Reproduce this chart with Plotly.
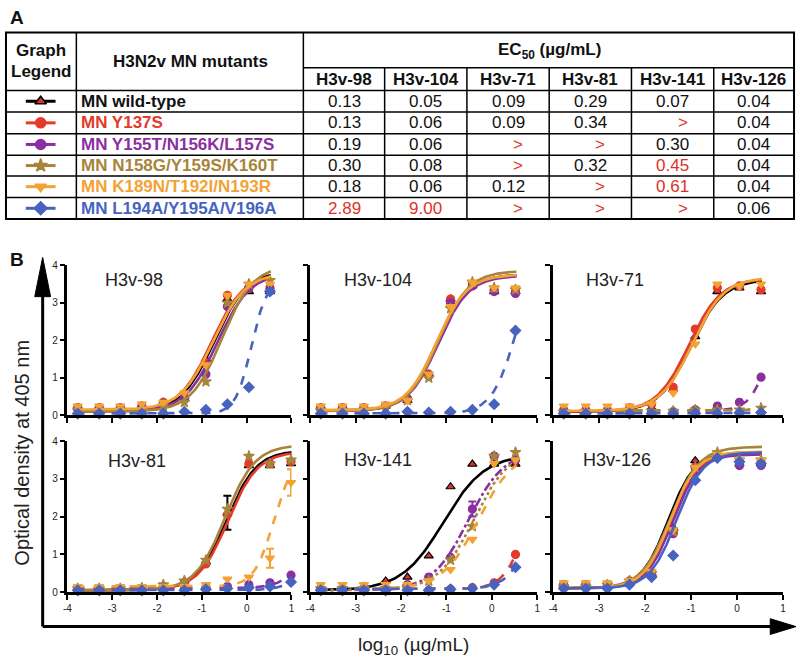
import numpy as np
import plotly.graph_objects as go

W, H = 800, 665
FONT = "Liberation Sans, Arial, Helvetica, sans-serif"

# ---------------- table data ----------------
antibodies = ["H3v-98", "H3v-104", "H3v-71", "H3v-81", "H3v-141", "H3v-126"]
mutants = ["MN wild-type", "MN Y137S", "MN Y155T/N156K/L157S",
           "MN N158G/Y159S/K160T", "MN K189N/T192I/N193R", "MN L194A/Y195A/V196A"]
ec50_wt = ["0.13", "0.05", "0.09", "0.29", "0.07", "0.04"]
ec50_y137s = ["0.13", "0.06", "0.09", "0.34", ">", "0.04"]
ec50_y155t = ["0.19", "0.06", ">", ">", "0.30", "0.04"]
ec50_n158g = ["0.30", "0.08", ">", "0.32", "0.45", "0.04"]
ec50_k189n = ["0.18", "0.06", "0.12", ">", "0.61", "0.04"]
ec50_l194a = ["2.89", "9.00", ">", ">", ">", "0.06"]
# cells printed in red besides the ">" entries: (row, column)
ec50_red_cells = [(3, 4), (4, 4), (5, 0), (5, 1)]

# ---------------- binding curve data ----------------
log_conc = [-3.77, -3.29, -2.82, -2.34, -1.86, -1.39, -0.91, -0.43, 0.05, 0.52]
log_conc_h3v81 = [-3.77, -3.29, -2.82, -2.34, -1.86, -1.39, -0.91, -0.43, 0.05, 0.52, 0.99]

# order of series in every panel: WT, Y137S, Y155T, N158G, K189N, L194A
od_h3v98 = [
    [0.20, 0.20, 0.20, 0.25, 0.35, 0.50, 1.50, 3.10, 3.30, 3.30],
    [0.20, 0.20, 0.20, 0.25, 0.35, 0.50, 1.40, 3.20, 3.40, 3.40],
    [0.20, 0.20, 0.20, 0.22, 0.30, 0.45, 1.10, 2.90, 3.40, 3.35],
    [0.15, 0.15, 0.15, 0.15, 0.25, 0.35, 0.90, 3.00, 3.50, 3.60],
    [0.25, 0.25, 0.25, 0.30, 0.35, 0.60, 1.35, 3.20, 3.50, 3.50],
    [0.05, 0.05, 0.05, 0.05, 0.05, 0.10, 0.15, 0.30, 0.75, 3.30],
]
od_h3v104 = [
    [0.20, 0.20, 0.20, 0.25, 0.40, 1.10, 3.10, 3.45, 3.30, 3.30],
    [0.20, 0.20, 0.20, 0.25, 0.42, 1.10, 3.10, 3.50, 3.35, 3.30],
    [0.20, 0.20, 0.20, 0.25, 0.45, 1.05, 3.00, 3.45, 3.30, 3.25],
    [0.15, 0.15, 0.15, 0.20, 0.40, 1.00, 2.85, 3.55, 3.40, 3.35],
    [0.25, 0.25, 0.25, 0.30, 0.40, 1.10, 2.90, 3.55, 3.40, 3.40],
    [0.05, 0.05, 0.05, 0.05, 0.10, 0.08, 0.10, 0.15, 0.30, 2.26],
]
od_h3v71 = [
    [0.15, 0.15, 0.15, 0.20, 0.20, 0.70, 2.10, 3.30, 3.40, 3.30],
    [0.15, 0.15, 0.15, 0.20, 0.30, 0.75, 2.30, 3.40, 3.45, 3.35],
    [0.10, 0.10, 0.10, 0.10, 0.10, 0.10, 0.15, 0.25, 0.35, 1.02],
    [0.10, 0.10, 0.10, 0.10, 0.12, 0.12, 0.15, 0.15, 0.15, 0.20],
    [0.25, 0.25, 0.25, 0.25, 0.30, 0.60, 1.90, 3.50, 3.45, 3.50],
    [0.05, 0.05, 0.05, 0.05, 0.05, 0.05, 0.06, 0.06, 0.07, 0.08],
]
od_h3v81 = [
    [0.10, 0.10, 0.10, 0.10, 0.18, 0.30, 0.80, 2.10, 3.35, 3.35, 3.40],
    [0.10, 0.10, 0.10, 0.10, 0.15, 0.25, 0.75, 2.05, 3.40, 3.40, 3.45],
    [0.05, 0.05, 0.05, 0.05, 0.10, 0.10, 0.12, 0.15, 0.20, 0.25, 0.45],
    [0.10, 0.10, 0.10, 0.12, 0.20, 0.30, 0.85, 2.20, 3.60, 3.40, 3.50],
    [0.15, 0.15, 0.15, 0.15, 0.15, 0.15, 0.20, 0.35, 0.40, 0.90, 2.90],
    [0.05, 0.05, 0.05, 0.05, 0.05, 0.05, 0.08, 0.10, 0.12, 0.15, 0.27],
]
od_h3v141 = [
    [0.10, 0.10, 0.15, 0.30, 0.40, 0.96, 2.79, 3.39, 3.39, 3.39],
    [0.05, 0.05, 0.05, 0.05, 0.05, 0.05, 0.08, 0.12, 0.25, 1.00],
    [0.10, 0.10, 0.10, 0.10, 0.20, 0.40, 0.92, 2.20, 3.60, 3.50],
    [0.10, 0.10, 0.10, 0.10, 0.15, 0.30, 0.85, 1.74, 3.60, 3.70],
    [0.20, 0.20, 0.20, 0.20, 0.20, 0.30, 0.60, 1.40, 3.40, 3.50],
    [0.05, 0.05, 0.05, 0.05, 0.05, 0.05, 0.08, 0.10, 0.20, 0.66],
]
od_h3v126 = [
    [0.20, 0.20, 0.20, 0.30, 0.50, 1.70, 3.48, 3.60, 3.40, 3.40],
    [0.20, 0.20, 0.20, 0.30, 0.50, 1.60, 3.30, 3.60, 3.45, 3.45],
    [0.20, 0.20, 0.20, 0.25, 0.43, 1.55, 3.31, 3.60, 3.35, 3.35],
    [0.15, 0.15, 0.20, 0.30, 0.50, 1.60, 3.30, 3.70, 3.50, 3.50],
    [0.25, 0.25, 0.25, 0.30, 0.55, 1.65, 3.30, 3.65, 3.50, 3.50],
    [0.10, 0.10, 0.10, 0.20, 0.40, 0.97, 2.96, 3.55, 3.45, 3.40],
]
# standard-deviation bars that are visible: (panel, series, point index, half-size)
sd_bars = [(3, 0, 7, 0.45), (3, 4, 9, 0.25), (3, 4, 10, 0.35), (4, 2, 7, 0.2)]

# fitted 4-parameter logistic curves: [bottom, top, logEC50, hill]
fit_h3v98 = [[0.12, 3.85, -0.72, 1.2], [0.12, 3.80, -0.78, 1.2], [0.10, 3.80, -0.65, 1.2],
             [0.10, 4.00, -0.55, 1.25], [0.15, 3.80, -0.75, 1.2], [0.05, 3.60, 0.10, 2.5]]
fit_h3v104 = [[0.12, 3.75, -1.20, 1.3], [0.12, 3.75, -1.22, 1.3], [0.12, 3.72, -1.18, 1.3],
              [0.12, 3.85, -1.18, 1.3], [0.14, 3.75, -1.22, 1.3], [0.05, 4.50, 0.55, 1.6]]
fit_h3v71 = [[0.10, 3.62, -1.00, 1.25], [0.10, 3.65, -1.05, 1.25], [0.12, 3.60, 0.75, 2.0],
             [0.12, 1.00, 1.20, 1.5], [0.12, 3.68, -0.98, 1.25], [0.05, 1.00, 1.50, 1.5]]
fit_h3v81 = [[0.05, 3.75, -0.45, 1.3], [0.05, 3.72, -0.42, 1.3], [0.10, 3.80, 1.60, 1.5],
             [0.05, 3.90, -0.48, 1.3], [0.15, 3.60, 0.60, 2.0], [0.05, 3.80, 1.80, 1.5]]
fit_h3v141 = [[0.05, 3.65, -1.07, 0.95], [0.08, 3.70, 0.79, 1.75], [0.05, 3.75, -0.52, 1.1],
              [0.05, 3.80, -0.40, 1.1], [0.08, 3.75, -0.30, 1.1], [0.08, 3.70, 0.95, 1.6]]
fit_h3v126 = [[0.10, 3.70, -1.50, 1.5], [0.10, 3.70, -1.42, 1.5], [0.10, 3.65, -1.40, 1.5],
              [0.10, 3.85, -1.45, 1.4], [0.10, 3.72, -1.45, 1.5], [0.10, 3.70, -1.32, 1.5]]

dash_h3v98 = ["solid", "solid", "solid", "solid", "solid", "dash"]
dash_h3v104 = ["solid", "solid", "solid", "solid", "solid", "dash"]
dash_h3v71 = ["solid", "solid", "dash", "dash", "solid", "dash"]
dash_h3v81 = ["solid", "solid", "dash", "solid", "dash", "dash"]
dash_h3v141 = ["solid", "dash", "dashdot", "dot", "dash", "dash"]
dash_h3v126 = ["solid", "solid", "solid", "solid", "solid", "solid"]

panel_conc = [log_conc, log_conc, log_conc, log_conc_h3v81, log_conc, log_conc]
panel_od = [od_h3v98, od_h3v104, od_h3v71, od_h3v81, od_h3v141, od_h3v126]
panel_fit = [fit_h3v98, fit_h3v104, fit_h3v71, fit_h3v81, fit_h3v141, fit_h3v126]
panel_dash = [dash_h3v98, dash_h3v104, dash_h3v71, dash_h3v81, dash_h3v141, dash_h3v126]
x_ticks = [-4, -3, -2, -1, 0, 1]
y_ticks = [0, 1, 2, 3, 4]

# ---------------- styles ----------------
line_colors = ["#000000", "#e33a2b", "#8b2fa0", "#a6853b", "#f3a233", "#4763bf"]
marker_fill = ["#d8342a", "#e33a2b", "#8b2fa0", "#a6853b", "#f3a233", "#4763bf"]
marker_edge = ["#000000", "#e33a2b", "#8b2fa0", "#a6853b", "#f3a233", "#4763bf"]
symbols = ["triangle-up", "circle", "circle", "star", "triangle-down", "diamond"]

panel_x_px = [(64, 290), (309, 538), (554, 786)]
panel_y_px = [(264, 417), (443, 597)]
title_pos = [(-3.2, 3.62), (-3.3, 3.62), (-3.33, 3.62), (-3.15, 3.48), (-3.3, 3.5), (-3.4, 3.5)]

fig = go.Figure()
layout = dict(
    width=W, height=H, margin=dict(l=0, r=0, t=0, b=0),
    paper_bgcolor="white", plot_bgcolor="rgba(0,0,0,0)", showlegend=False,
    font=dict(family=FONT, color="#111"),
)

def logistic(x, p):
    b, t, c, h = p
    return b + (t - b) / (1.0 + 10 ** ((c - x) * h))

annotations = []
shapes = []

for k in range(6):
    r, c = divmod(k, 3)
    ax = k + 1
    x0, x1 = panel_x_px[c]
    y0, y1 = panel_y_px[r]
    layout[f"xaxis{ax}"] = dict(
        domain=[x0 / W, x1 / W], anchor=f"y{ax}", range=[-4, 1],
        tickvals=x_ticks, ticktext=[str(v) for v in x_ticks],
        showticklabels=(r == 1), ticks="outside", ticklen=5, tickwidth=2,
        showline=True, linewidth=2.5, linecolor="black", tickcolor="black",
        showgrid=False, zeroline=False,
        tickfont=dict(size=10, color="#222", family=FONT),
    )
    layout[f"yaxis{ax}"] = dict(
        domain=[1 - y1 / H, 1 - y0 / H], anchor=f"x{ax}", range=[0, 4],
        tickvals=y_ticks, showticklabels=(c == 0), ticks="outside", ticklen=5, tickwidth=2,
        showline=True, linewidth=2.5, linecolor="black", tickcolor="black",
        showgrid=False, zeroline=False,
        tickfont=dict(size=10, color="#222", family=FONT),
    )
    conc = panel_conc[k]
    xs = np.linspace(conc[0] - 0.05, conc[-1] + 0.02, 200)
    for s in range(6):
        ys = logistic(xs, panel_fit[k][s])
        fig.add_trace(go.Scatter(
            x=xs, y=ys, mode="lines", xaxis=f"x{ax}", yaxis=f"y{ax}",
            line=dict(color=line_colors[s], width=2.6, dash=panel_dash[k][s]),
            hoverinfo="skip"))
        err = [0.0] * len(conc)
        for (pk, ps, pi, pe) in sd_bars:
            if pk == k and ps == s:
                err[pi] = pe
        fig.add_trace(go.Scatter(
            x=conc, y=panel_od[k][s], mode="markers", xaxis=f"x{ax}", yaxis=f"y{ax}",
            cliponaxis=False,
            error_y=dict(type="data", array=err, visible=any(err), color=line_colors[s],
                         thickness=2, width=4),
            marker=dict(symbol=symbols[s], size=8, color=marker_fill[s],
                        line=dict(color=marker_edge[s], width=1.2))))
    tx, ty = title_pos[k]
    annotations.append(dict(x=tx, y=ty, xref=f"x{ax}", yref=f"y{ax}", text=antibodies[k],
                            showarrow=False, xanchor="left", yanchor="middle",
                            font=dict(size=18, color="#222", family=FONT)))

# overlay axis in pixel units for table and decorations
layout["xaxis7"] = dict(domain=[0, 1], range=[0, W], visible=False, anchor="y7", fixedrange=True)
layout["yaxis7"] = dict(domain=[0, 1], range=[H, 0], visible=False, anchor="x7", fixedrange=True)

def line(xa, ya, xb, yb, w=1.5):
    shapes.append(dict(type="line", xref="x7", yref="y7", x0=xa, y0=ya, x1=xb, y1=yb,
                       line=dict(color="black", width=w)))

def text(x, y, s, size=17, bold=False, color="#111", anchor="center", angle=0):
    if bold:
        s = f"<b>{s}</b>"
    annotations.append(dict(x=x, y=y, xref="x7", yref="y7", text=s, showarrow=False,
                            xanchor=anchor, yanchor="middle", textangle=angle,
                            font=dict(size=size, color=color, family=FONT)))

# table grid
T_L, T_R, T_T, T_B = 2, 797, 27, 217
col_x = [302, 384, 467, 550, 633, 716, 797]
row_y = [86, 108, 130, 152, 173, 195, 217]
shapes.append(dict(type="rect", xref="x7", yref="y7", x0=T_L, y0=T_T, x1=T_R, y1=T_B,
                   line=dict(color="black", width=2)))
line(73, T_T, 73, T_B)
line(302, T_T, 302, T_B)
for xv in col_x[1:-1]:
    line(xv, 63, xv, T_B)
line(302, 63, T_R, 63)
for yv in row_y[:-1]:
    line(T_L, yv, T_R, yv)

text(37, 45, "Graph", bold=True)
text(37, 67, "Legend", bold=True)
text(188, 57, "H3N2v MN mutants", bold=True)
text(550, 46, "EC<sub>50</sub> (µg/mL)", bold=True)
for j, ab in enumerate(antibodies):
    text((col_x[j] + col_x[j + 1]) / 2, 75, ab, bold=True)

ec50_rows = [ec50_wt, ec50_y137s, ec50_y155t, ec50_n158g, ec50_k189n, ec50_l194a]
for i in range(6):
    yc = (row_y[i] + row_y[i + 1]) / 2
    text(76, yc, mutants[i], bold=True, color=line_colors[i] if i else "#111", anchor="left")
    for j in range(6):
        v = ec50_rows[i][j]
        red = v == ">" or (i, j) in ec50_red_cells
        xc = (col_x[j] + col_x[j + 1]) / 2 + (10 if v == ">" else 0)
        text(xc, yc, v, color="#e0302a" if red else "#111")
    # legend glyph
    fig.add_trace(go.Scatter(x=[22, 52], y=[yc, yc], mode="lines", xaxis="x7", yaxis="y7",
                             line=dict(color=line_colors[i], width=3), hoverinfo="skip"))
    fig.add_trace(go.Scatter(x=[37], y=[yc], mode="markers", xaxis="x7", yaxis="y7",
                             marker=dict(symbol=symbols[i], size=10, color=marker_fill[i],
                                         line=dict(color=marker_edge[i], width=1.5))))

# panel labels
text(4, 12, "A", size=19, bold=True, anchor="left")
text(4, 258, "B", size=19, bold=True, anchor="left")

# big axis arrows
line(39, 632, 39, 290, w=3)
line(39, 632, 776, 632, w=3)
shapes.append(dict(type="path", xref="x7", yref="y7", path="M 39 256 L 31 296 L 47 296 Z",
                   fillcolor="black", line=dict(color="black", width=1)))
shapes.append(dict(type="path", xref="x7", yref="y7", path="M 799 632 L 773 624 L 773 640 Z",
                   fillcolor="black", line=dict(color="black", width=1)))

text(18, 455, "Optical density at 405 nm", size=20, angle=-90, color="#222")
text(413, 652, "log<sub>10</sub> (µg/mL)", size=19, color="#222")

layout["annotations"] = annotations
layout["shapes"] = shapes
fig.update_layout(**layout)
fig.write_html("out.html", config={"displayModeBar": False},
               post_script="document.body.style.margin='0px';document.body.style.overflow='hidden';")
